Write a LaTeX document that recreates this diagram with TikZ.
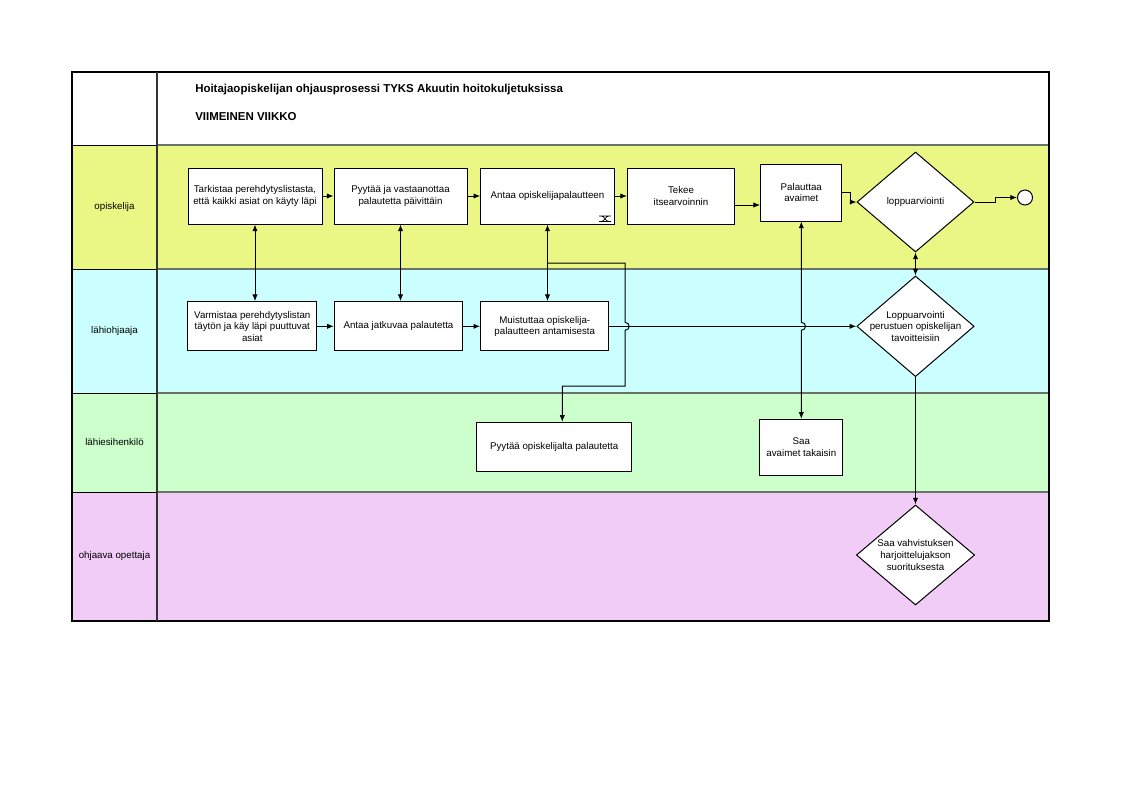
\documentclass[tikz,border=0pt]{standalone}
\usepackage{fontspec}
\setmainfont{Liberation Sans}
\usetikzlibrary{shapes.geometric,arrows.meta}
\definecolor{laneA}{RGB}{235,247,133}
\definecolor{laneB}{RGB}{204,255,255}
\definecolor{laneC}{RGB}{204,255,204}
\definecolor{laneD}{RGB}{241,204,247}
\definecolor{divc}{RGB}{105,115,105}
\begin{document}
\begin{tikzpicture}[x=0.75pt,y=-0.75pt,
  box/.style={draw, fill=white, line width=0.75pt, inner sep=0pt, align=center,
    font=\fontsize{7.3pt}{8.7pt}\selectfont},
  dia/.style={draw, fill=white, line width=0.75pt, inner sep=0pt, diamond},
  lab/.style={inner sep=0pt, align=center, font=\fontsize{7.3pt}{8.7pt}\selectfont},
  ttl/.style={anchor=west, inner sep=0pt, font=\fontsize{8.6pt}{10pt}\selectfont\bfseries},
  tip/.tip={Latex[length=5pt,width=4pt]},
  arr/.style={-tip, line width=0.75pt},
  darr/.style={tip-tip, line width=0.75pt},
  sep/.style={divc, line width=1.5pt}]
\fill[white] (0,0) rectangle (1122,794);
\useasboundingbox (0,0) rectangle (1122,794);
% lanes
\fill[laneA] (72,145) rectangle (1049,269);
\fill[laneB] (72,269) rectangle (1049,393);
\fill[laneC] (72,393) rectangle (1049,492);
\fill[laneD] (72,492) rectangle (1049,621);
\foreach \yy in {145,269,393,492}{
  \draw[sep] (157,\yy) -- (1049,\yy);
  \draw[line width=0.75pt] (72,\yy) -- (157,\yy);
}
\draw[line width=0.9pt] (72,72) rectangle (1049,621);
\draw[line width=1pt, black!80] (157,72) -- (157,621);
% header
\node[ttl] (T1) at (195,90) {Hoitajaopiskelijan ohjausprosessi TYKS Akuutin hoitokuljetuksissa};
\node[ttl] (T2) at (195,117) {VIIMEINEN VIIKKO};
% lane labels
\node[lab] (L1) at (114.5,207) {opiskelija};
\node[lab] (L2) at (114.5,331) {lähiohjaaja};
\node[lab] (L3) at (114.5,442) {lähiesihenkilö};
\node[lab] (L4) at (114.5,556) {ohjaava opettaja};
% lane 1
\node[box, minimum width=100.5pt, minimum height=42pt] (B1) at (255,196)
  {Tarkistaa perehdytyslistasta,\\ että kaikki asiat on käyty läpi};
\node[box, minimum width=99.75pt, minimum height=42pt] (B2) at (400.5,196)
  {Pyytää ja vastaanottaa\\ palautetta päivittäin};
\node[box, minimum width=100.2pt, minimum height=42pt] (B3) at (547.5,196)
  {Antaa opiskelijapalautteen};
\node[box, minimum width=80.25pt, minimum height=42pt] (B4) at (681,196)
  {Tekee\\ itsearvoinnin};
\node[box, minimum width=61pt, minimum height=42.75pt] (B5) at (801.3,192.5)
  {Palauttaa\\ avaimet};
\node[dia, minimum width=87.75pt, minimum height=75pt] (D1) at (915.5,202) {};
\node[lab] (D1t) at (D1.center) {loppuarviointi};
\node[circle, draw, fill=white, line width=0.75pt, minimum size=11.25pt, inner sep=0pt] (E) at (1025,197.5) {};
% icon in B3
\draw[line width=0.5pt] (599,216) -- (611,216) (599,221.5) -- (611,221.5)
  (601,216) .. controls (605,216) and (605,221.5) .. (609,221.5)
  (601,221.5) .. controls (605,221.5) and (605,216) .. (609,216);
% lane 2
\node[box, minimum width=96.5pt, minimum height=37pt] (C1) at (252.3,326.3)
  {Varmistaa perehdytyslistan\\ täytön ja käy läpi puuttuvat\\ asiat};
\node[box, minimum width=96.3pt, minimum height=37pt] (C2) at (398.5,326.3)
  {Antaa jatkuvaa palautetta};
\node[box, minimum width=96.2pt, minimum height=37pt] (C3) at (544.8,326.3)
  {Muistuttaa opiskelija-\\ palautteen antamisesta};
\node[dia, minimum width=88pt, minimum height=75.5pt] (D2) at (915.5,326.3) {};
\node[lab] (D2t) at (D2.center)
  {Loppuarvointi\\ perustuen opiskelijan\\ tavoitteisiin};
% lane 3
\node[box, minimum width=116.25pt, minimum height=36.5pt] (E1) at (554.2,446.7)
  {Pyytää opiskelijalta palautetta};
\node[box, minimum width=62pt, minimum height=42pt] (E2) at (801.3,447.3)
  {Saa\\ avaimet takaisin};
% lane 4
\node[dia, minimum width=88.7pt, minimum height=75pt] (D3) at (915.5,555) {};
\node[lab] (D3t) at (D3.center)
  {Saa vahvistuksen\\ harjoittelujakson\\ suorituksesta};
% connectors lane 1
\draw[arr] (B1.east) -- (B2.west);
\draw[arr] (B2.east) -- (B3.west);
\draw[arr] (B3.east) -- (B4.west);
\path (B4.east) ++(0,9) coordinate (t45);
\draw[arr] (t45) -- (t45 -| B5.west);
\draw[arr] (B5.east) -- (B5.east -| 850,0) -- (850,202) -- (D1.west);
\draw[arr] (D1.east) -- (995.7,202) -- (995.7,197.5) -- (E.west);
% lane 2
\draw[arr] (C1.east) -- (C2.west);
\draw[arr] (C2.east) -- (C3.west);
\draw[arr] (C3.east) -- (D2.west);
% verticals
\draw[darr] (B1.south) -- (B1.south |- C1.north);
\draw[darr] (B2.south) -- (B2.south |- C2.north);
\draw[darr] (B3.south) -- (B3.south |- C3.north);
\draw[arr] (B3.south |- 0,263) -- (625,263) -- (625,322.3)
  .. controls (630.5,322.3) and (630.5,330.3) .. (625,330.3)
  -- (625,386) -- (562.3,386) -- (562.3,386 |- E1.north);
\draw[darr] (B5.south) -- (801.3,322.3)
  .. controls (806.8,322.3) and (806.8,330.3) .. (801.3,330.3) -- (E2.north);
\draw[darr] (D1.south) -- (D2.north);
\draw[arr] (D2.south) -- (D3.north);
\end{tikzpicture}
\end{document}
